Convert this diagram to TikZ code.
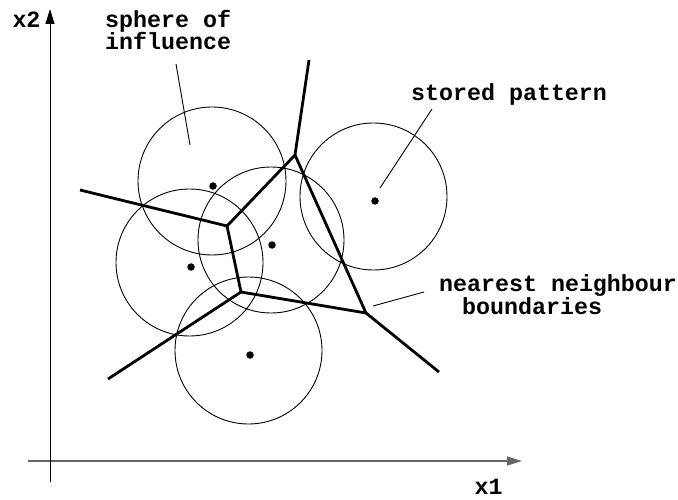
\documentclass[tikz,border=0pt]{standalone}
\usepackage{fontspec}
\setmonofont{Liberation Mono}
\usetikzlibrary{arrows.meta}

\begin{document}
\begin{tikzpicture}[x=1pt,y=-1pt,
  lbl/.style={font=\fontsize{23.3}{22.5}\selectfont\ttfamily\bfseries,
              anchor=base west,inner sep=0pt,align=left},
  sphere/.style={line width=0.9pt},
  bound/.style={line width=2.8pt,line join=miter},
  lead/.style={line width=0.9pt},
  pat/.style={circle,fill,inner sep=0pt,minimum size=7.5pt},
  axis/.style={line width=1pt,-{Triangle[length=15pt,width=9pt]}}]
  \useasboundingbox (0,0) rectangle (678,500);

  % axes
  \coordinate (xs) at (28,461);
  \coordinate (xe) at (522,461);
  \coordinate (ys) at (50,482);
  \coordinate (ye) at (50,9);
  \draw[axis,black!60,line width=1.3pt] (xs) -- (xe);
  \draw[axis] (ys) -- (ye);
  \node[lbl,anchor=base] (x1) at (488.5,494) {x1};
  \node[lbl,anchor=base] (x2) at (26.5,28) {x2};

  % spheres of influence
  \draw[sphere] (212,181)     circle[radius=74];
  \draw[sphere] (189.5,262.5) circle[radius=73.5];
  \draw[sphere] (271,240)     circle[radius=73];
  \draw[sphere] (373.5,196.5) circle[radius=73.5];
  \draw[sphere] (248.5,350.5) circle[radius=73.5];

  % stored patterns
  \node[pat] (p1) at (213,186) {};
  \node[pat] (p2) at (191,267) {};
  \node[pat] (p3) at (272,245) {};
  \node[pat] (p4) at (375,201) {};
  \node[pat] (p5) at (250,355) {};

  % nearest neighbour boundaries
  \coordinate (va) at (227,226);
  \coordinate (vb) at (295,155);
  \coordinate (vc) at (241,292);
  \coordinate (vd) at (366,313);
  \coordinate (ea) at (80,190);
  \coordinate (eb) at (309,60);
  \coordinate (ec) at (108,379);
  \coordinate (ed) at (439,372);
  \draw[bound] (ea) -- (va) -- (vc) -- (vd) -- (ed);
  \draw[bound] (va) -- (vb) -- (eb);
  \draw[bound] (vb) -- (vd);
  \draw[bound] (vc) -- (ec);

  % labels
  \node[lbl] (sph) at (105,50)  {sphere of\\influence};
  \node[lbl] (sto) at (411,101) {stored pattern};
  \node[lbl] (nnb) at (439,314) {nearest neighbour\\\hspace*{23pt}boundaries};
  \coordinate (sph0) at (176,64);
  \coordinate (sph1) at (190,145);
  \coordinate (sto0) at (432,109);
  \coordinate (sto1) at (380,188);
  \coordinate (nnb0) at (424,292);
  \coordinate (nnb1) at (373,306);
  \draw[lead] (sph0) -- (sph1);
  \draw[lead] (sto0) -- (sto1);
  \draw[lead] (nnb0) -- (nnb1);

\end{tikzpicture}
\end{document}
